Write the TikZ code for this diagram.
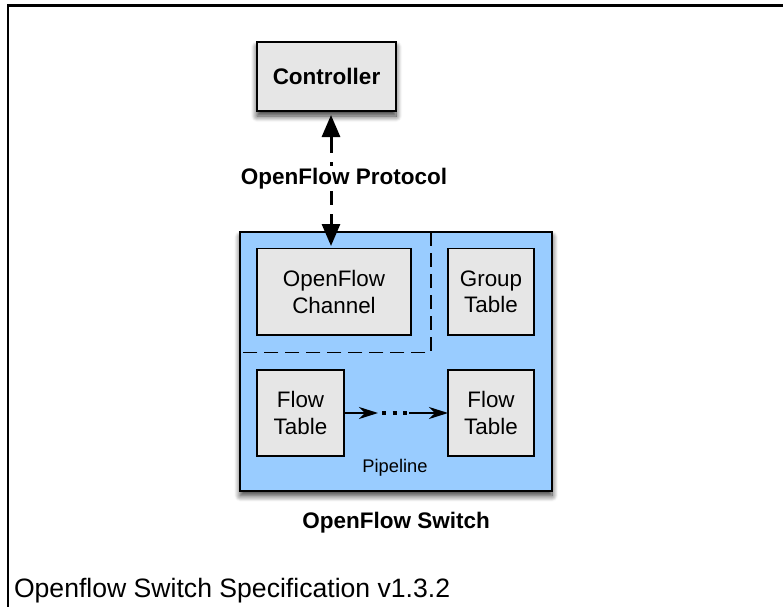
\documentclass[tikz,border=0pt]{standalone}
\usepackage{fontspec}
\setmainfont{Liberation Sans}
\usetikzlibrary{arrows.meta,shadows.blur}

\definecolor{boxgray}{HTML}{E6E6E6}
\definecolor{switchblue}{HTML}{99CCFF}

\tikzset{
  every node/.style={inner sep=0pt, outer sep=0pt},
  softshadow/.style={blur shadow={shadow xshift=0pt, shadow yshift=-5pt,
      shadow blur radius=6pt, shadow blur steps=10, shadow opacity=80}},
  graybox/.style={draw=black, line width=1.5pt, fill=boxgray, align=center,
      font=\fontsize{22.4}{26.5}\selectfont},
  ctrlbox/.style={graybox, line width=1.8pt, softshadow,
      font=\bfseries\fontsize{22.5}{27}\selectfont},
  switchbox/.style={draw=black, line width=2pt, fill=switchblue, softshadow},
  boldlabel/.style={font=\bfseries\fontsize{22.5}{27}\selectfont},
  divider/.style={draw=black, line width=1.5pt, dash pattern=on 14pt off 7pt},
  protoarrow/.style={line width=3pt, dash pattern=on 17pt off 9pt,
      {Triangle[length=22pt,width=18pt]}-{Triangle[length=22pt,width=18pt]}},
  flowarrow/.style={line width=1.5pt, -{Stealth[length=19pt,width=12pt,inset=6pt]}},
  flowdots/.style={line width=4pt, dash pattern=on 4pt off 6.5pt},
}

\begin{document}
\begin{tikzpicture}[x=1pt,y=-1pt]
\useasboundingbox (0,0) rectangle (783,607);

% page frame (top and left edges)
\draw[line width=2.5pt] (783,5.5) -- (8,5.5) -- (8,607);

% controller
\node[ctrlbox, minimum width=139pt, minimum height=69pt] (ctrl) at (326.5,76.5) {Controller};

% switch body
\node[switchbox, minimum width=311.7pt, minimum height=258.7pt] (switch) at (396.2,361.3) {};

% dashed separators between channel area and the rest
\coordinate (divtop) at (431,232);
\coordinate (divcorner) at (431,352.3);
\coordinate (divleft) at (240.3,352.3);
\draw[divider] (divtop) -- (divcorner) -- (divleft);

% boxes inside the switch
\node[graybox, minimum width=154pt, minimum height=86.5pt] (channel) at (334,291.8) {OpenFlow\\Channel};
\node[graybox, minimum width=86pt, minimum height=86.5pt] (group) at (491,291.8) {Group\\Table};
\node[graybox, minimum width=87pt, minimum height=86pt] (ft1) at (300.5,413) {Flow\\Table};
\node[graybox, minimum width=86pt, minimum height=86pt] (ft2) at (491,413) {Flow\\Table};

% protocol connection
\coordinate (ctrltip) at (331,115);
\coordinate (chtip) at (331,246);
\draw[protoarrow] (ctrltip) -- (chtip);
\node[boldlabel, fill=white, inner sep=2pt, anchor=base] (proto) at (344,184) {OpenFlow Protocol};

% pipeline between flow tables
\coordinate (dotsL) at (382,413);
\coordinate (dotsR) at (407,413);
\draw[flowarrow] (ft1.east) -- ([xshift=-4pt]dotsL);
\draw[flowdots] (dotsL) -- (dotsR);
\draw[flowarrow] ([xshift=2pt]dotsR) -- (ft2.west);

\node[font=\fontsize{18.3}{22}\selectfont, anchor=base] (pipeline) at (395,472) {Pipeline};
\node[boldlabel, anchor=base] (swlabel) at (396,528) {OpenFlow Switch};

% caption
\node[font=\fontsize{26.6}{30}\selectfont, anchor=base west] (spec) at (14,597) {Openflow Switch Specification v1.3.2};
\end{tikzpicture}
\end{document}
